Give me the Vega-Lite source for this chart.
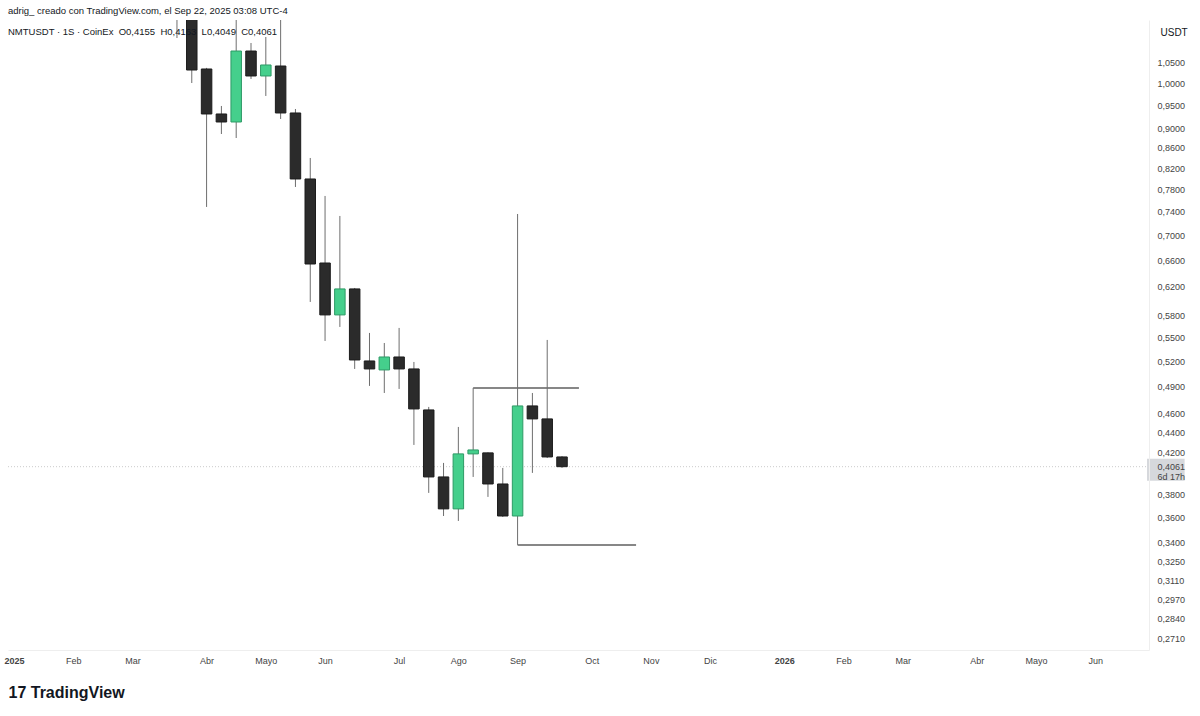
{
  "$schema": "https://vega.github.io/schema/vega-lite/v6.json",
  "width": 1141,
  "height": 630,
  "autosize": {"type": "none"},
  "padding": {"left": 8, "top": 20, "right": 51, "bottom": 66},
  "background": "white",
  "config": {"view": {"stroke": null}, "font": "Liberation Sans"},
  "title": {
    "text": "adrig_ creado con TradingView.com, el Sep 22, 2025 03:08 UTC-4",
    "subtitle": "\u00a0\u00a0NMTUSDT · 1S · CoinEx\u00a0\u00a0O0,4155\u00a0\u00a0H0,4163\u00a0\u00a0L0,4049\u00a0\u00a0C0,4061",
    "anchor": "start",
    "frame": "group",
    "offset": -16,
    "fontSize": 9.5,
    "fontWeight": "normal",
    "color": "#131722",
    "subtitleFontSize": 9.5,
    "subtitleColor": "#131722",
    "subtitlePadding": 11
  },
  "datasets": {
    "candles": [
      {"date": "2025-03-24", "open": 1.30, "high": 1.34, "low": 1.1136, "close": 1.19},
      {"date": "2025-03-31", "open": 1.19, "high": 1.23, "low": 1.0017, "close": 1.0328},
      {"date": "2025-04-07", "open": 1.0353, "high": 1.038, "low": 0.7483, "close": 0.9313},
      {"date": "2025-04-14", "open": 0.9313, "high": 0.949, "low": 0.8884, "close": 0.9139},
      {"date": "2025-04-21", "open": 0.9139, "high": 1.17, "low": 0.8801, "close": 1.08},
      {"date": "2025-04-28", "open": 1.08, "high": 1.1006, "low": 1.0113, "close": 1.0184},
      {"date": "2025-05-05", "open": 1.0184, "high": 1.1163, "low": 0.9716, "close": 1.0451},
      {"date": "2025-05-12", "open": 1.0426, "high": 1.18, "low": 0.9204, "close": 0.9335},
      {"date": "2025-05-19", "open": 0.9335, "high": 0.9423, "low": 0.7843, "close": 0.7992},
      {"date": "2025-05-26", "open": 0.7992, "high": 0.8397, "low": 0.5984, "close": 0.6543},
      {"date": "2025-06-02", "open": 0.6558, "high": 0.7679, "low": 0.5459, "close": 0.5804},
      {"date": "2025-06-09", "open": 0.5804, "high": 0.7326, "low": 0.5642, "close": 0.617},
      {"date": "2025-06-16", "open": 0.617, "high": 0.6184, "low": 0.5111, "close": 0.522},
      {"date": "2025-06-23", "open": 0.5208, "high": 0.5563, "low": 0.4911, "close": 0.5111},
      {"date": "2025-06-30", "open": 0.5099, "high": 0.5433, "low": 0.483, "close": 0.5257},
      {"date": "2025-07-07", "open": 0.5257, "high": 0.5629, "low": 0.4876, "close": 0.5111},
      {"date": "2025-07-14", "open": 0.5111, "high": 0.5196, "low": 0.4274, "close": 0.4652},
      {"date": "2025-07-21", "open": 0.4641, "high": 0.4674, "low": 0.3818, "close": 0.3964},
      {"date": "2025-07-28", "open": 0.3964, "high": 0.4097, "low": 0.3616, "close": 0.3677},
      {"date": "2025-08-04", "open": 0.3677, "high": 0.4459, "low": 0.3574, "close": 0.4185},
      {"date": "2025-08-11", "open": 0.4185, "high": 0.4888, "low": 0.3964, "close": 0.4224},
      {"date": "2025-08-18", "open": 0.4195, "high": 0.42, "low": 0.3782, "close": 0.3899},
      {"date": "2025-08-25", "open": 0.3899, "high": 0.4049, "low": 0.3608, "close": 0.3616},
      {"date": "2025-09-01", "open": 0.3616, "high": 0.736, "low": 0.3378, "close": 0.4685},
      {"date": "2025-09-08", "open": 0.4685, "high": 0.483, "low": 0.4002, "close": 0.4544},
      {"date": "2025-09-15", "open": 0.4544, "high": 0.5472, "low": 0.4145, "close": 0.4155},
      {"date": "2025-09-22", "open": 0.4155, "high": 0.4163, "low": 0.4049, "close": 0.4061}
    ],
    "levels": [
      {"start": "2025-08-11", "end": "2025-09-30", "level": 0.4888},
      {"start": "2025-09-01", "end": "2025-10-27", "level": 0.3378}
    ],
    "last": [{"price": 0.4061}]
  },
  "layer": [
    {
      "data": {"name": "last"},
      "mark": {"type": "rule", "color": "#cccccc", "strokeDash": [1, 2], "strokeWidth": 1},
      "encoding": {
        "y": {"field": "price", "type": "quantitative"}
      }
    },
    {
      "data": {"name": "levels"},
      "mark": {"type": "rule", "color": "#5f5f5f", "strokeWidth": 1.5},
      "encoding": {
        "x": {"field": "start", "type": "temporal"},
        "x2": {"field": "end"},
        "y": {"field": "level", "type": "quantitative"}
      }
    },
    {
      "data": {"name": "candles"},
      "mark": {"type": "rule", "color": "#6e6e6e", "strokeWidth": 1, "clip": true},
      "encoding": {
        "x": {"field": "date", "type": "temporal"},
        "y": {"field": "low", "type": "quantitative"},
        "y2": {"field": "high"}
      }
    },
    {
      "data": {"name": "candles"},
      "mark": {"type": "bar", "width": 10.5, "strokeWidth": 1, "clip": true},
      "encoding": {
        "x": {
          "field": "date",
          "type": "temporal",
          "scale": {
            "type": "utc",
            "domain": [
              {"year": 2025, "month": 1, "date": 5, "hours": 12, "utc": true},
              {"year": 2026, "month": 6, "date": 24, "hours": 2, "utc": true}
            ]
          },
          "axis": {
            "orient": "bottom",
            "values": [
              {"year": 2025, "month": 1, "date": 6, "utc": true},
              {"year": 2025, "month": 2, "date": 3, "utc": true},
              {"year": 2025, "month": 3, "date": 3, "utc": true},
              {"year": 2025, "month": 4, "date": 7, "utc": true},
              {"year": 2025, "month": 5, "date": 5, "utc": true},
              {"year": 2025, "month": 6, "date": 2, "utc": true},
              {"year": 2025, "month": 7, "date": 7, "utc": true},
              {"year": 2025, "month": 8, "date": 4, "utc": true},
              {"year": 2025, "month": 9, "date": 1, "utc": true},
              {"year": 2025, "month": 10, "date": 6, "utc": true},
              {"year": 2025, "month": 11, "date": 3, "utc": true},
              {"year": 2025, "month": 12, "date": 1, "utc": true},
              {"year": 2026, "month": 1, "date": 5, "utc": true},
              {"year": 2026, "month": 2, "date": 2, "utc": true},
              {"year": 2026, "month": 3, "date": 2, "utc": true},
              {"year": 2026, "month": 4, "date": 6, "utc": true},
              {"year": 2026, "month": 5, "date": 4, "utc": true},
              {"year": 2026, "month": 6, "date": 1, "utc": true}
            ],
            "labelExpr": "utcmonth(datum.value) === 0 ? utcFormat(datum.value, '%Y') : ['Ene','Feb','Mar','Abr','Mayo','Jun','Jul','Ago','Sep','Oct','Nov','Dic'][utcmonth(datum.value)]",
            "labelFontWeight": {"condition": {"test": "utcmonth(datum.value) === 0", "value": "bold"}, "value": "normal"},
            "labelFontSize": 9,
            "labelColor": "#444444",
            "labelPadding": 6,
            "labelOverlap": false,
            "labelFlush": false,
            "ticks": false,
            "grid": false,
            "domain": true,
            "domainColor": "#eeeeee",
            "title": "17 TradingView",
            "titleAnchor": "start",
            "titleAlign": "left",
            "titleBaseline": "middle",
            "titleX": 0,
            "titleY": 42,
            "titleFontSize": 16,
            "titleFontWeight": "bold",
            "titleColor": "#131722"
          }
        },
        "y": {
          "field": "open",
          "type": "quantitative",
          "scale": {"type": "log", "domain": [0.2638, 1.1618], "nice": false, "zero": false},
          "axis": {
            "orient": "right",
            "values": [1.05, 1.0, 0.95, 0.9, 0.86, 0.82, 0.78, 0.74, 0.7, 0.66, 0.62, 0.58, 0.55, 0.52, 0.49, 0.46, 0.44, 0.42, 0.4061, 0.38, 0.36, 0.34, 0.325, 0.311, 0.297, 0.284, 0.271],
            "labelExpr": "datum.value === 0.4061 ? ['0,4061', '6d 17h'] : replace(format(datum.value, '.4f'), '.', ',')",
            "labelFontSize": 9,
            "labelLineHeight": 10,
            "labelColor": "#444444",
            "labelPadding": 8,
            "labelOverlap": false,
            "labelFlush": false,
            "ticks": false,
            "grid": false,
            "domain": true,
            "domainColor": "#eeeeee",
            "zindex": 2,
            "title": "USDT",
            "titleAngle": 0,
            "titleX": 11,
            "titleY": 12,
            "titleAlign": "left",
            "titleBaseline": "middle",
            "titleFontSize": 10,
            "titleFontWeight": "normal",
            "titleColor": "#131722"
          }
        },
        "y2": {"field": "close"},
        "fill": {"condition": {"test": "datum.close > datum.open", "value": "#45cf8c"}, "value": "#2b2b2b"},
        "stroke": {"condition": {"test": "datum.close > datum.open", "value": "#2e9a66"}, "value": "#1c1c1c"}
      }
    },
    {
      "data": {"name": "last"},
      "mark": {"type": "rect", "color": "#d6d8dc", "yOffset": -8, "y2Offset": 14},
      "encoding": {
        "x": {"datum": {"year": 2026, "month": 6, "date": 25, "hours": 12, "utc": true}, "type": "temporal"},
        "x2": {"datum": {"year": 2026, "month": 7, "date": 13, "hours": 7, "utc": true}},
        "y": {"field": "price", "type": "quantitative"},
        "y2": {"field": "price"}
      }
    }
  ]
}
